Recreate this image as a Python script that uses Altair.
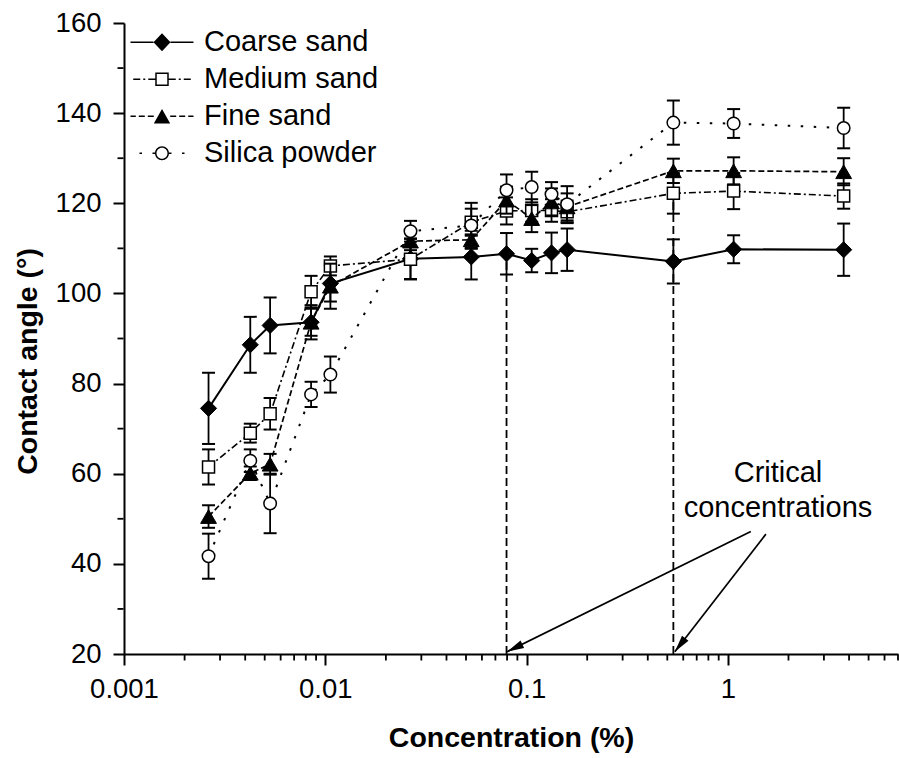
import math
import altair as alt
import pandas as pd

# ---------------- data ----------------
series_names = ["Coarse sand", "Medium sand", "Fine sand", "Silica powder"]
conc = [0.00263, 0.00424, 0.00532, 0.0085, 0.0106, 0.0265, 0.0531, 0.0795,
        0.106, 0.133, 0.159, 0.536, 1.068, 3.76]
coarse = [74.5, 88.6, 92.9, 93.6, 102.2, 107.7, 108.1, 108.8, 107.3, 109.0, 109.7, 107.1, 109.8, 109.7]
coarse_err = [7.9, 6.2, 6.2, 3.0, 4.0, 4.5, 5.0, 4.6, 2.6, 4.5, 4.7, 4.9, 3.1, 5.8]
medium = [61.5, 69.0, 73.3, 100.4, 106.1, 107.6, 115.8, 118.3, 118.4, 118.4, 118.1, 122.2, 122.7, 121.6]
medium_err = [3.9, 2.1, 3.5, 3.5, 2.1, 4.5, 3.0, 3.0, 2.5, 2.5, 2.5, 4.5, 4.0, 2.8]
fine = [50.5, 60.1, 62.1, 93.6, 101.6, 111.6, 111.9, 120.7, 116.6, 120.3, 119.2, 127.2, 127.2, 127.0]
fine_err = [2.5, 1.5, 2.3, 3.8, 5.0, 2.0, 2.0, 3.0, 3.0, 3.0, 3.0, 2.7, 3.0, 3.0]
silica = [41.7, 62.9, 53.4, 77.6, 82.0, 113.8, 115.1, 122.9, 123.6, 122.0, 119.8, 137.9, 137.7, 136.7]
silica_err = [5.0, 2.5, 6.6, 2.8, 4.0, 2.3, 5.0, 3.5, 3.4, 2.7, 4.0, 4.9, 3.2, 4.5]

crit_x = [0.0795, 0.536]
crit_low = [20, 20]
crit_top = [108.8, 122.2]

arrow_x0 = [1.30, 1.545]
arrow_y0 = [47.2, 46.6]
arrow_x1 = [0.080, 0.545]
arrow_y1 = [20.5, 20.5]

annot_x = [1.774]
annot_y = [58.2]
annot_text = ["Critical\nconcentrations"]

x_major = [0.001, 0.01, 0.1, 1]
x_minor = [0.002, 0.003, 0.004, 0.005, 0.006, 0.007, 0.008, 0.009,
           0.02, 0.03, 0.04, 0.05, 0.06, 0.07, 0.08, 0.09,
           0.2, 0.3, 0.4, 0.5, 0.6, 0.7, 0.8, 0.9,
           2, 3, 4, 5, 6, 7]
y_major = [20, 40, 60, 80, 100, 120, 140, 160]
y_minor = [30, 50, 70, 90, 110, 130, 150]

# ---------------- layout / style ----------------
W, H = 774, 631
XMIN, XMAX = 0.001, 7.0
YMIN, YMAX = 20, 160
FONT = "Liberation Sans"

styles = {
    "Coarse sand":   dict(shape="diamond", fill="black", dash=None, width=2.0, size=260),
    "Medium sand":   dict(shape="square", fill="white", dash=[7, 3, 2, 3], width=1.6, size=144),
    "Fine sand":     dict(shape="triangle-up", fill="black", dash=[6, 3], width=1.7, size=250),
    "Silica powder": dict(shape="circle", fill="white", dash=[2.5, 10.5], width=2.0, size=156),
}

rows = []
for name, vals, errs in zip(series_names, [coarse, medium, fine, silica],
                            [coarse_err, medium_err, fine_err, silica_err]):
    for c, v, e in zip(conc, vals, errs):
        rows.append({"series": name, "conc": c, "angle": v, "err": e})
df = pd.DataFrame(rows)

crit_df = pd.DataFrame({"x": crit_x, "lo": crit_low, "hi": crit_top})
xminor_df = pd.DataFrame({"x": x_minor, "y": [YMIN] * len(x_minor)})
yminor_df = pd.DataFrame({"x": [XMIN] * len(y_minor), "y": y_minor})


def px(x):
    return W * (math.log10(x) - math.log10(XMIN)) / (math.log10(XMAX) - math.log10(XMIN))


def py(y):
    return H * (YMAX - y) / (YMAX - YMIN)


angles = []
for a, b, c, d in zip(arrow_x0, arrow_y0, arrow_x1, arrow_y1):
    dx = px(c) - px(a)
    dy = py(d) - py(b)
    angles.append(math.degrees(math.atan2(dx, -dy)) % 360)
arrow_df = pd.DataFrame({"x0": arrow_x0, "y0": arrow_y0, "x1": arrow_x1, "y1": arrow_y1, "ang": angles})
annot_df = pd.DataFrame({"x": annot_x, "y": annot_y, "label": annot_text})

xscale = alt.Scale(type="log", domain=[XMIN, XMAX], nice=False)
yscale = alt.Scale(domain=[YMIN, YMAX], nice=False, zero=False)

# ---------------- legend symbols (line sample + marker as one path) ----------------
R = 13.0  # px per path unit for symbolSize 676
HALF = 31.5


def rect(a, b, t=0.8):
    return (f"M{a/R:.3f},{-t/R:.3f}L{b/R:.3f},{-t/R:.3f}"
            f"L{b/R:.3f},{t/R:.3f}L{a/R:.3f},{t/R:.3f}Z")


def line_part(pattern, m):
    if pattern is None:
        pattern = [100, 0]
    out = ""
    pos, i = m, 0
    while pos < HALF:
        ln = pattern[i % len(pattern)]
        if i % 2 == 0 and ln > 0:
            end = min(pos + ln, HALF)
            out += rect(pos, end) + rect(-end, -pos)
        pos += ln
        i += 1
    return out


def u(v):
    return f"{v/R:.3f}"


diamond = f"M{u(-8.5)},0L0,{u(-9)}L{u(8.5)},0L0,{u(9)}Z"
square = (f"M{u(-6.75)},{u(-6.75)}L{u(6.75)},{u(-6.75)}L{u(6.75)},{u(6.75)}L{u(-6.75)},{u(6.75)}Z"
          f"M{u(-5.25)},{u(-5.25)}L{u(-5.25)},{u(5.25)}L{u(5.25)},{u(5.25)}L{u(5.25)},{u(-5.25)}Z")
triangle = f"M0,{u(-7.2)}L{u(-8.2)},{u(7.2)}L{u(8.2)},{u(7.2)}Z"
ro, ri = 7.0, 5.5
circle = (f"M{u(ro)},0A{u(ro)},{u(ro)} 0 1,1 {u(-ro)},0A{u(ro)},{u(ro)} 0 1,1 {u(ro)},0Z"
          f"M{u(ri)},0A{u(ri)},{u(ri)} 0 1,0 {u(-ri)},0A{u(ri)},{u(ri)} 0 1,0 {u(ri)},0Z")

legend_paths = [
    line_part(styles["Coarse sand"]["dash"], 8.5) + diamond,
    line_part(styles["Medium sand"]["dash"], 6.75) + square,
    line_part(styles["Fine sand"]["dash"], 8.2) + triangle,
    line_part(styles["Silica powder"]["dash"], 7.0) + circle,
]

# ---------------- axes (same definition in every layer so they merge) ----------------
main_x_axis = alt.Axis(
    values=x_major, format=".3~f", orient="bottom", grid=False,
    tickSize=11, tickWidth=2, tickColor="black", domainWidth=2, domainColor="black",
    labelFont=FONT, labelFontSize=27.5, labelColor="black", labelPadding=10,
    labelFlush=False, labelOverlap=False,
    title="Concentration (%)", titleFont=FONT, titleFontSize=28.5, titleFontWeight="bold",
    titleColor="black", titleX=W / 2, titleY=92, titleBaseline="alphabetic",
)
main_y_axis = alt.Axis(
    values=y_major, orient="left", grid=False,
    tickSize=11, tickWidth=2, tickColor="black", domainWidth=2, domainColor="black",
    labelFont=FONT, labelFontSize=27.5, labelColor="black", labelPadding=12,
    labelFlush=False, labelOverlap=False,
    title="Contact angle (°)", titleFont=FONT, titleFontSize=28.5, titleFontWeight="bold",
    titleColor="black", titleAngle=270, titleX=-88, titleY=338, titleBaseline="alphabetic",
)


def X(field):
    return alt.X(field, type="quantitative", scale=xscale, axis=main_x_axis)


def Y(field):
    return alt.Y(field, type="quantitative", scale=yscale, axis=main_y_axis)


legend = alt.Legend(
    title=None, orient="none", legendX=23.5, legendY=4.8, direction="vertical",
    symbolSize=676, symbolStrokeWidth=0, symbolFillColor="black", symbolOpacity=1,
    symbolOffset=0, labelFont=FONT, labelFontSize=29, labelColor="black",
    labelOffset=27.5, labelLimit=400, rowPadding=7, padding=0,
)

base = alt.Chart(df)

legend_layer = base.mark_point(filled=True, opacity=0, color="black").encode(
    x=X("conc"), y=Y("angle"),
    shape=alt.Shape("series:N", scale=alt.Scale(domain=series_names, range=legend_paths), legend=legend),
)

# minor ticks of both axes, placed through the scales
xminor_layer = alt.Chart(xminor_df).mark_tick(
    orient="vertical", size=6, thickness=1.8, color="black", opacity=1, yOffset=3.5
).encode(x=X("x"), y=Y("y"))
yminor_layer = alt.Chart(yminor_df).mark_tick(
    orient="horizontal", size=6, thickness=1.8, color="black", opacity=1, xOffset=-3.5
).encode(x=X("x"), y=Y("y"))

crit_layer = alt.Chart(crit_df).mark_rule(color="black", strokeWidth=1.8, strokeDash=[8, 4]).encode(
    x=X("x"), y=Y("lo"), y2="hi:Q",
)

arrow_lines = alt.Chart(arrow_df).mark_rule(color="black", strokeWidth=1.7).encode(
    x=X("x0"), y=Y("y0"), x2="x1:Q", y2="y1:Q",
)
arrow_heads = alt.Chart(arrow_df).mark_point(
    shape="M0,0L-0.24,1L0.24,1Z", filled=True, color="black", size=1156, opacity=1
).encode(
    x=X("x1"), y=Y("y1"),
    angle=alt.Angle("ang:Q", scale=None),
)
annot_layer = alt.Chart(annot_df).mark_text(
    font=FONT, fontSize=29, color="black", align="center", baseline="alphabetic",
    lineBreak="\n", lineHeight=35,
).encode(x=X("x"), y=Y("y"), text="label:N")

layers = [legend_layer, xminor_layer, yminor_layer, crit_layer, arrow_lines, arrow_heads, annot_layer]
for name in series_names:
    st = styles[name]
    sub = base.transform_filter(alt.datum.series == name)
    ex = sub.transform_calculate(lo="datum.angle - datum.err", hi="datum.angle + datum.err")
    bars = ex.mark_rule(color="black", strokeWidth=1.8).encode(
        x=X("conc"), y=Y("lo"), y2="hi:Q",
    )
    caps = ex.transform_fold(["lo", "hi"], as_=["end", "val"]).mark_tick(
        orient="horizontal", size=13, thickness=2, color="black", opacity=1
    ).encode(x=X("conc"), y=Y("val"))
    line_kw = dict(color="black", strokeWidth=st["width"])
    if st["dash"] is not None:
        line_kw["strokeDash"] = st["dash"]
    line = sub.mark_line(**line_kw).encode(x=X("conc"), y=Y("angle"))
    pts = sub.mark_point(
        shape=st["shape"], filled=True, fill=st["fill"], stroke="black",
        strokeWidth=1.5 if st["fill"] == "white" else 1.0, size=st["size"], opacity=1,
    ).encode(x=X("conc"), y=Y("angle"))
    layers += [bars, caps, line, pts]

chart = alt.layer(*layers).properties(
    width=W, height=H,
    autosize=alt.AutoSizeParams(type="none"),
    padding={"left": 124, "top": 23, "right": 1, "bottom": 104},
    background="white",
).configure(font=FONT).configure_view(strokeWidth=0, stroke="transparent")

chart.save("out.html", embed_options={"renderer": "svg", "actions": False})
